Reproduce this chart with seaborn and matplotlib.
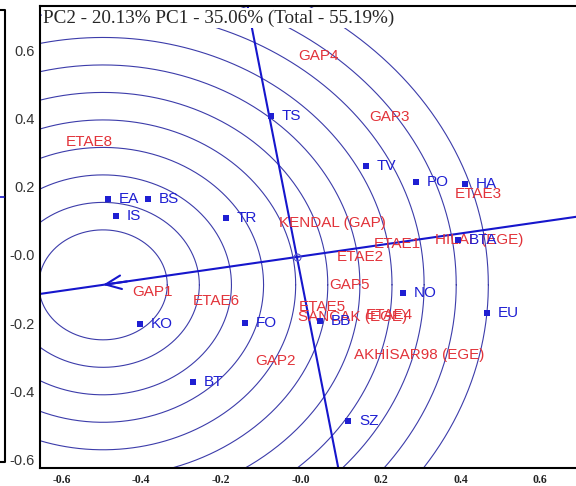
import matplotlib
matplotlib.use("Agg")
import matplotlib.pyplot as plt
import seaborn as sns
import numpy as np
import pandas as pd
from matplotlib.lines import Line2D

# ---------------- data ----------------
genotypes = ["TS", "TV", "PO", "HA", "EA", "BS", "IS", "TR", "BTA", "NO",
             "EU", "KO", "FO", "BB", "BT", "SZ"]
geno_pc1 = [-0.075, 0.163, 0.288, 0.411, -0.484, -0.383, -0.464, -0.188, 0.393,
            0.256, 0.466, -0.404, -0.140, 0.048, -0.271, 0.118]
geno_pc2 = [0.407, 0.261, 0.214, 0.208, 0.164, 0.164, 0.114, 0.108, 0.044,
            -0.111, -0.170, -0.202, -0.199, -0.193, -0.372, -0.486]

environments = ["GAP4", "GAP3", "ETAE8", "ETAE3", "KENDAL (GAP)", "ETAE1",
                "HILAL (EGE)", "ETAE2", "GAP5", "GAP1", "ETAE6", "ETAE5",
                "SANCAK (EGE)", "ETAE4", "GAP2", "AKHİSAR98 (EGE)"]
env_pc1 = [0.045, 0.221, -0.531, 0.444, 0.078, 0.241, 0.446, 0.148, 0.123,
           -0.371, -0.213, 0.055, 0.130, 0.223, -0.063, 0.296]
env_pc2 = [0.583, 0.404, 0.331, 0.179, 0.094, 0.032, 0.044, -0.006, -0.088,
           -0.108, -0.135, -0.152, -0.182, -0.176, -0.310, -0.290]

biplot_origin = (-0.010, -0.006)
aea_slope = 0.168
ideal_pc1 = -0.496
ring_step = 0.0805
ring_index = [2, 3, 4, 5, 6, 7, 8, 9, 10, 11, 12]

title_text = "PC2 - 20.13% PC1 - 35.06% (Total - 55.19%)"
xtick_vals = [-0.6, -0.4, -0.2, 0.0, 0.2, 0.4, 0.6]
xtick_labels = ["-0.6", "-0.4", "-0.2", "-0.0", "0.2", "0.4", "0.6"]
ytick_vals = [0.6, 0.4, 0.2, 0.0, -0.2, -0.4, -0.6]
ytick_labels = ["0.6", "0.4", "0.2", "-0.0", "-0.2", "-0.4", "-0.6"]

# ---------------- style ----------------
sns.set_style("white")
plt.rcParams["font.family"] = ["Liberation Sans", "DejaVu Sans"]

BLUE = "#1f1fd2"
RED = "#e2333a"
RING = "#3c3caa"
LINE = "#1616cc"

fig = plt.figure(figsize=(5.76, 4.86), dpi=100)
W, H = 576, 486
ax = fig.add_axes([40 / W, 18 / H, (600 - 40) / W, (468 - 6) / H])
ax.set_xlim(-0.654, 0.75)
ax.set_ylim(-0.624, 0.729)

# concentric rings around ideal point
ox, oy = biplot_origin
ideal_pc2 = oy + aea_slope * (ideal_pc1 - ox)
theta = np.linspace(0, 2 * np.pi, 720)
for k in ring_index:
    r = ring_step * k
    ax.plot(ideal_pc1 + r * np.cos(theta), ideal_pc2 + r * np.sin(theta),
            color=RING, lw=0.8, zorder=1)

# average environment axes
ax.axline((ox, oy), slope=aea_slope, color=LINE, lw=1.5, zorder=2)
ax.axline((ox, oy), slope=-1 / aea_slope, color=LINE, lw=1.5, zorder=2)
ax.plot([ox], [oy], marker="o", ms=5, mfc="none", mec="#5555cc", mew=0.8, zorder=3)
ax.annotate("", xy=(ideal_pc1, ideal_pc2),
            xytext=(ideal_pc1 + 0.06, ideal_pc2 + 0.06 * aea_slope),
            arrowprops=dict(arrowstyle="->,head_length=0.8,head_width=0.35",
                            color=LINE, lw=1.5, mutation_scale=14,
                            shrinkA=0, shrinkB=0), zorder=3)

# environments (red text)
for name, x, y in zip(environments, env_pc1, env_pc2):
    ax.text(x, y, name, color=RED, fontsize=11, ha="center", va="center", zorder=4)

# genotypes (blue squares + labels)
gdf = pd.DataFrame({"PC1": geno_pc1, "PC2": geno_pc2, "name": genotypes})
sns.scatterplot(data=gdf, x="PC1", y="PC2", marker="s", s=22, color=BLUE,
                edgecolor=BLUE, linewidth=0, ax=ax, zorder=5)
for name, x, y in zip(genotypes, geno_pc1, geno_pc2):
    ax.annotate(name, (x, y), xytext=(8, 0), textcoords="offset points",
                color=BLUE, fontsize=11, ha="left", va="center", zorder=5)

# axes styling
ax.set_xlabel("")
ax.set_ylabel("")
ax.set_xticks(xtick_vals)
ax.set_xticklabels(xtick_labels, family=["Liberation Serif", "DejaVu Serif"],
                   fontweight="bold", fontsize=8.5, color="#222222")
ax.set_yticks(ytick_vals)
ax.set_yticklabels(ytick_labels, fontsize=10.5, color="#333333")
ax.tick_params(axis="x", length=0, pad=4)
ax.tick_params(axis="y", length=0, pad=4)
for side in ["left", "top", "bottom"]:
    ax.spines[side].set_color("black")
    ax.spines[side].set_linewidth(1.5)
ax.spines["right"].set_visible(False)

# title text with white background (kept below the top frame line)
fig.text(43 / W, 1 - 18 / H, title_text, family=["Liberation Serif", "DejaVu Serif"],
         fontsize=13.8, ha="left", va="center", zorder=10,
         bbox=dict(facecolor="white", edgecolor="none", pad=1.0))

# neighbouring frame edge at far left
fig.add_artist(Line2D([0, 5 / W, 5 / W, 0], [1 - 10 / H, 1 - 10 / H, 1 - 462 / H, 1 - 462 / H],
                      transform=fig.transFigure, color="black", lw=1.5))
fig.add_artist(Line2D([0, 4 / W], [1 - 197 / H, 1 - 197 / H],
                      transform=fig.transFigure, color=LINE, lw=1.2))

fig.savefig("out.png", dpi=100)
